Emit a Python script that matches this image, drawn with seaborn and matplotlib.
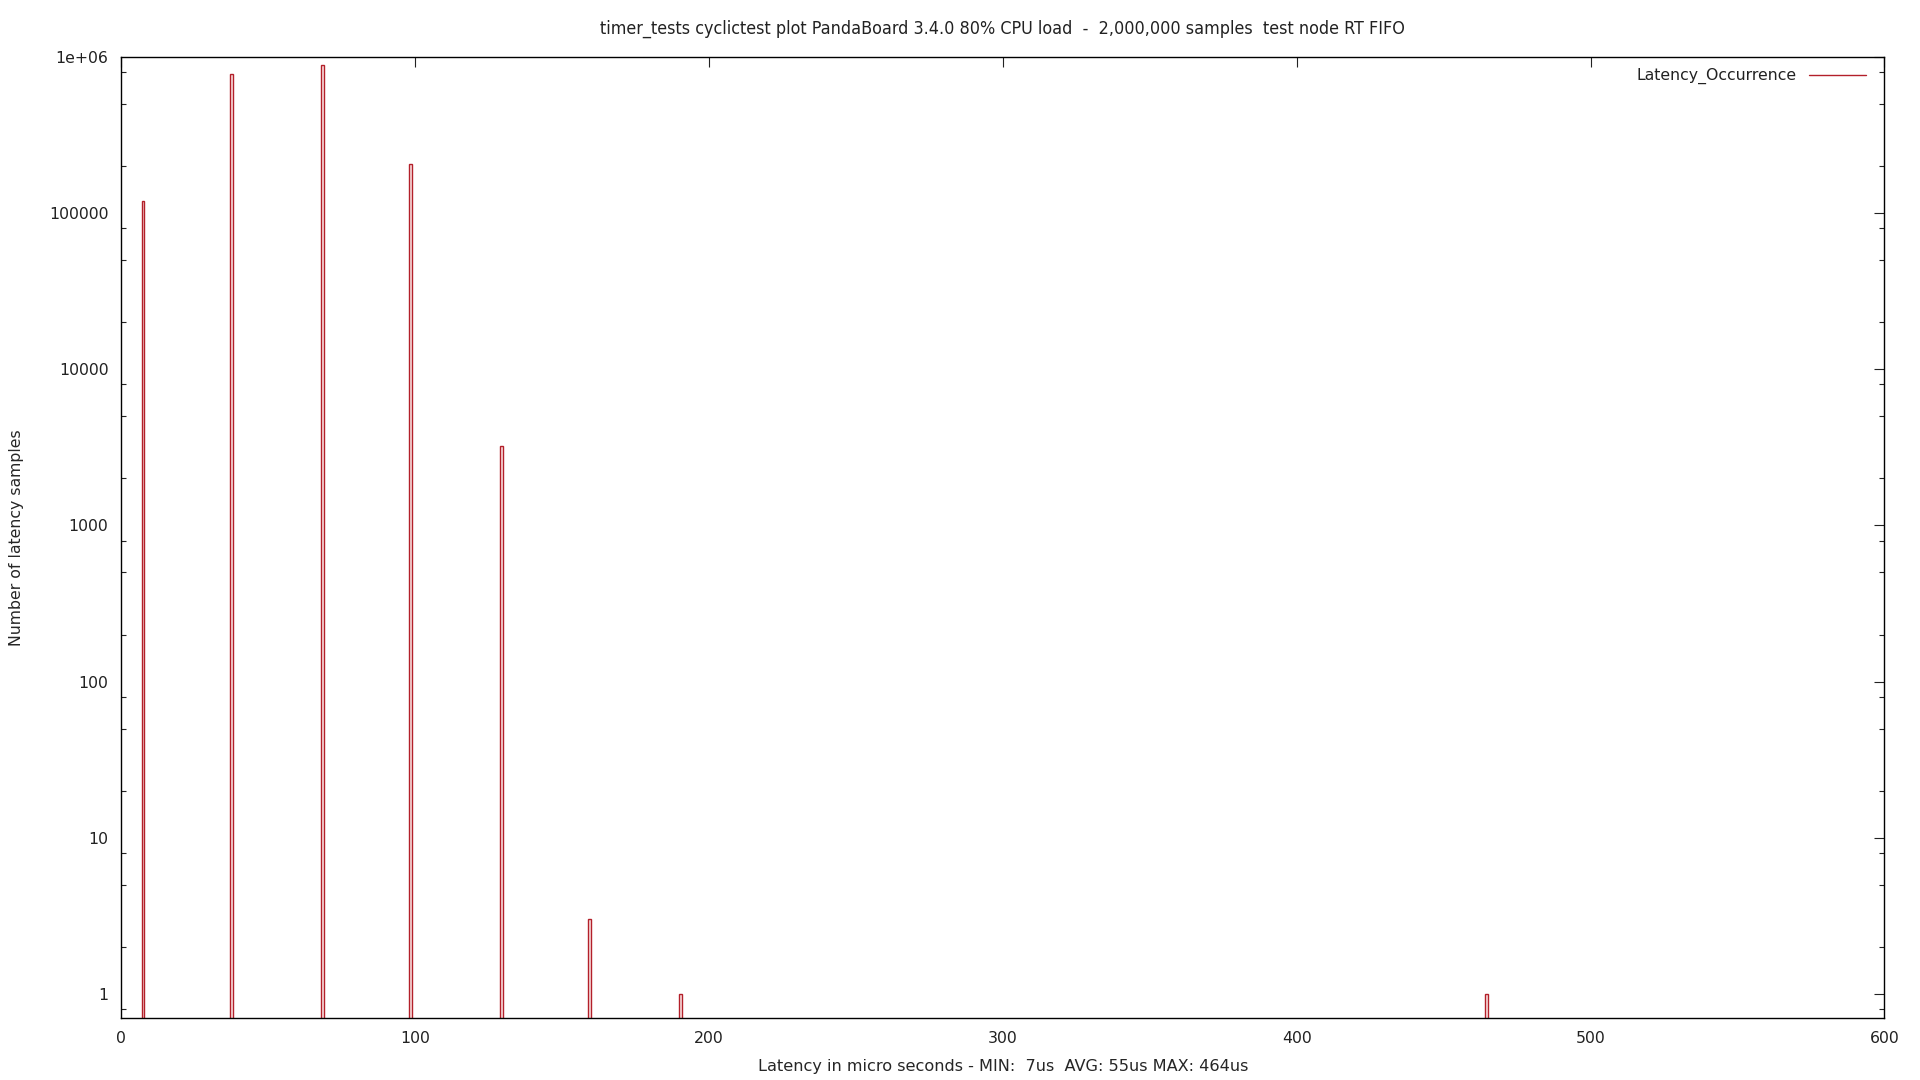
import numpy as np
import pandas as pd
import seaborn as sb
import matplotlib.pyplot as plt
from matplotlib.lines import Line2D
from matplotlib.ticker import FixedLocator, FuncFormatter, NullFormatter

# latency histogram (us -> number of samples)
latency_us = [7, 37, 68, 98, 129, 159, 190, 464]
occurrences = [120000, 780000, 890000, 207000, 3230, 3, 1, 1]

titleText = 'timer_tests cyclictest plot PandaBoard 3.4.0 80% CPU load  -  2,000,000 samples  test node RT FIFO'
xlabelText = 'Latency in micro seconds - MIN:  7us  AVG: 55us MAX: 464us'
ylabelText = 'Number of latency samples'
legendText = 'Latency_Occurrence'

lineColor = '#b3202a'
fillColor = '#fbe3e3'

df = pd.DataFrame({'latency': latency_us, 'count': occurrences})

sb.set_style('white')
plt.rcParams['font.family'] = ['DejaVu Sans']
plt.rcParams['text.color'] = '#222222'
plt.rcParams['xtick.color'] = '#222222'
plt.rcParams['ytick.color'] = '#222222'

fig = plt.figure(figsize=(19.2, 10.8), dpi=100)
ax = fig.add_axes([0.063, 0.0574, 0.9185, 0.8898])

sb.histplot(df, x='latency', weights='count', binwidth=1, binrange=(0, 600),
            element='bars', fill=True, color=fillColor, edgecolor=lineColor,
            linewidth=1.0, alpha=1.0, ax=ax)

ax.set_yscale('log')
ax.set_xlim(0, 600)
ax.set_ylim(0.7, 1e6)

ax.xaxis.set_major_locator(FixedLocator([0, 100, 200, 300, 400, 500, 600]))
ax.yaxis.set_major_locator(FixedLocator([1, 10, 100, 1000, 10000, 100000, 1000000]))
minors = [m * 10.0 ** d for d in range(-1, 6) for m in (2, 5, 8)]
ax.yaxis.set_minor_locator(FixedLocator(minors))
ax.yaxis.set_minor_formatter(NullFormatter())
ax.yaxis.set_major_formatter(FuncFormatter(lambda v, p: '1e+06' if v >= 1e6 else '%d' % v))

ax.tick_params(axis='both', which='major', direction='in', length=7.5, width=0.8,
               top=True, right=True, labelsize=11.3, pad=9)
ax.tick_params(axis='y', which='minor', direction='in', length=3.8, width=0.8,
               left=True, right=True)
for s in ax.spines.values():
    s.set_visible(True)
    s.set_color('black')
    s.set_linewidth(1.0)

ax.set_title(titleText, fontsize=12.9, fontstretch='condensed', pad=16.5)
ax.set_xlabel(xlabelText, fontsize=11.6, labelpad=9.5)
ax.set_ylabel(ylabelText, fontsize=11.3)
ax.yaxis.set_label_coords(-0.055, 0.5)

handle = Line2D([], [], color=lineColor, linewidth=1.0)
ax.legend([handle], [legendText], loc='upper right', frameon=False, markerfirst=False,
          fontsize=11.3, handlelength=3.6, bbox_to_anchor=(0.993, 0.995), borderaxespad=0.0)

fig.savefig('out.png', dpi=100)
plt.close()
